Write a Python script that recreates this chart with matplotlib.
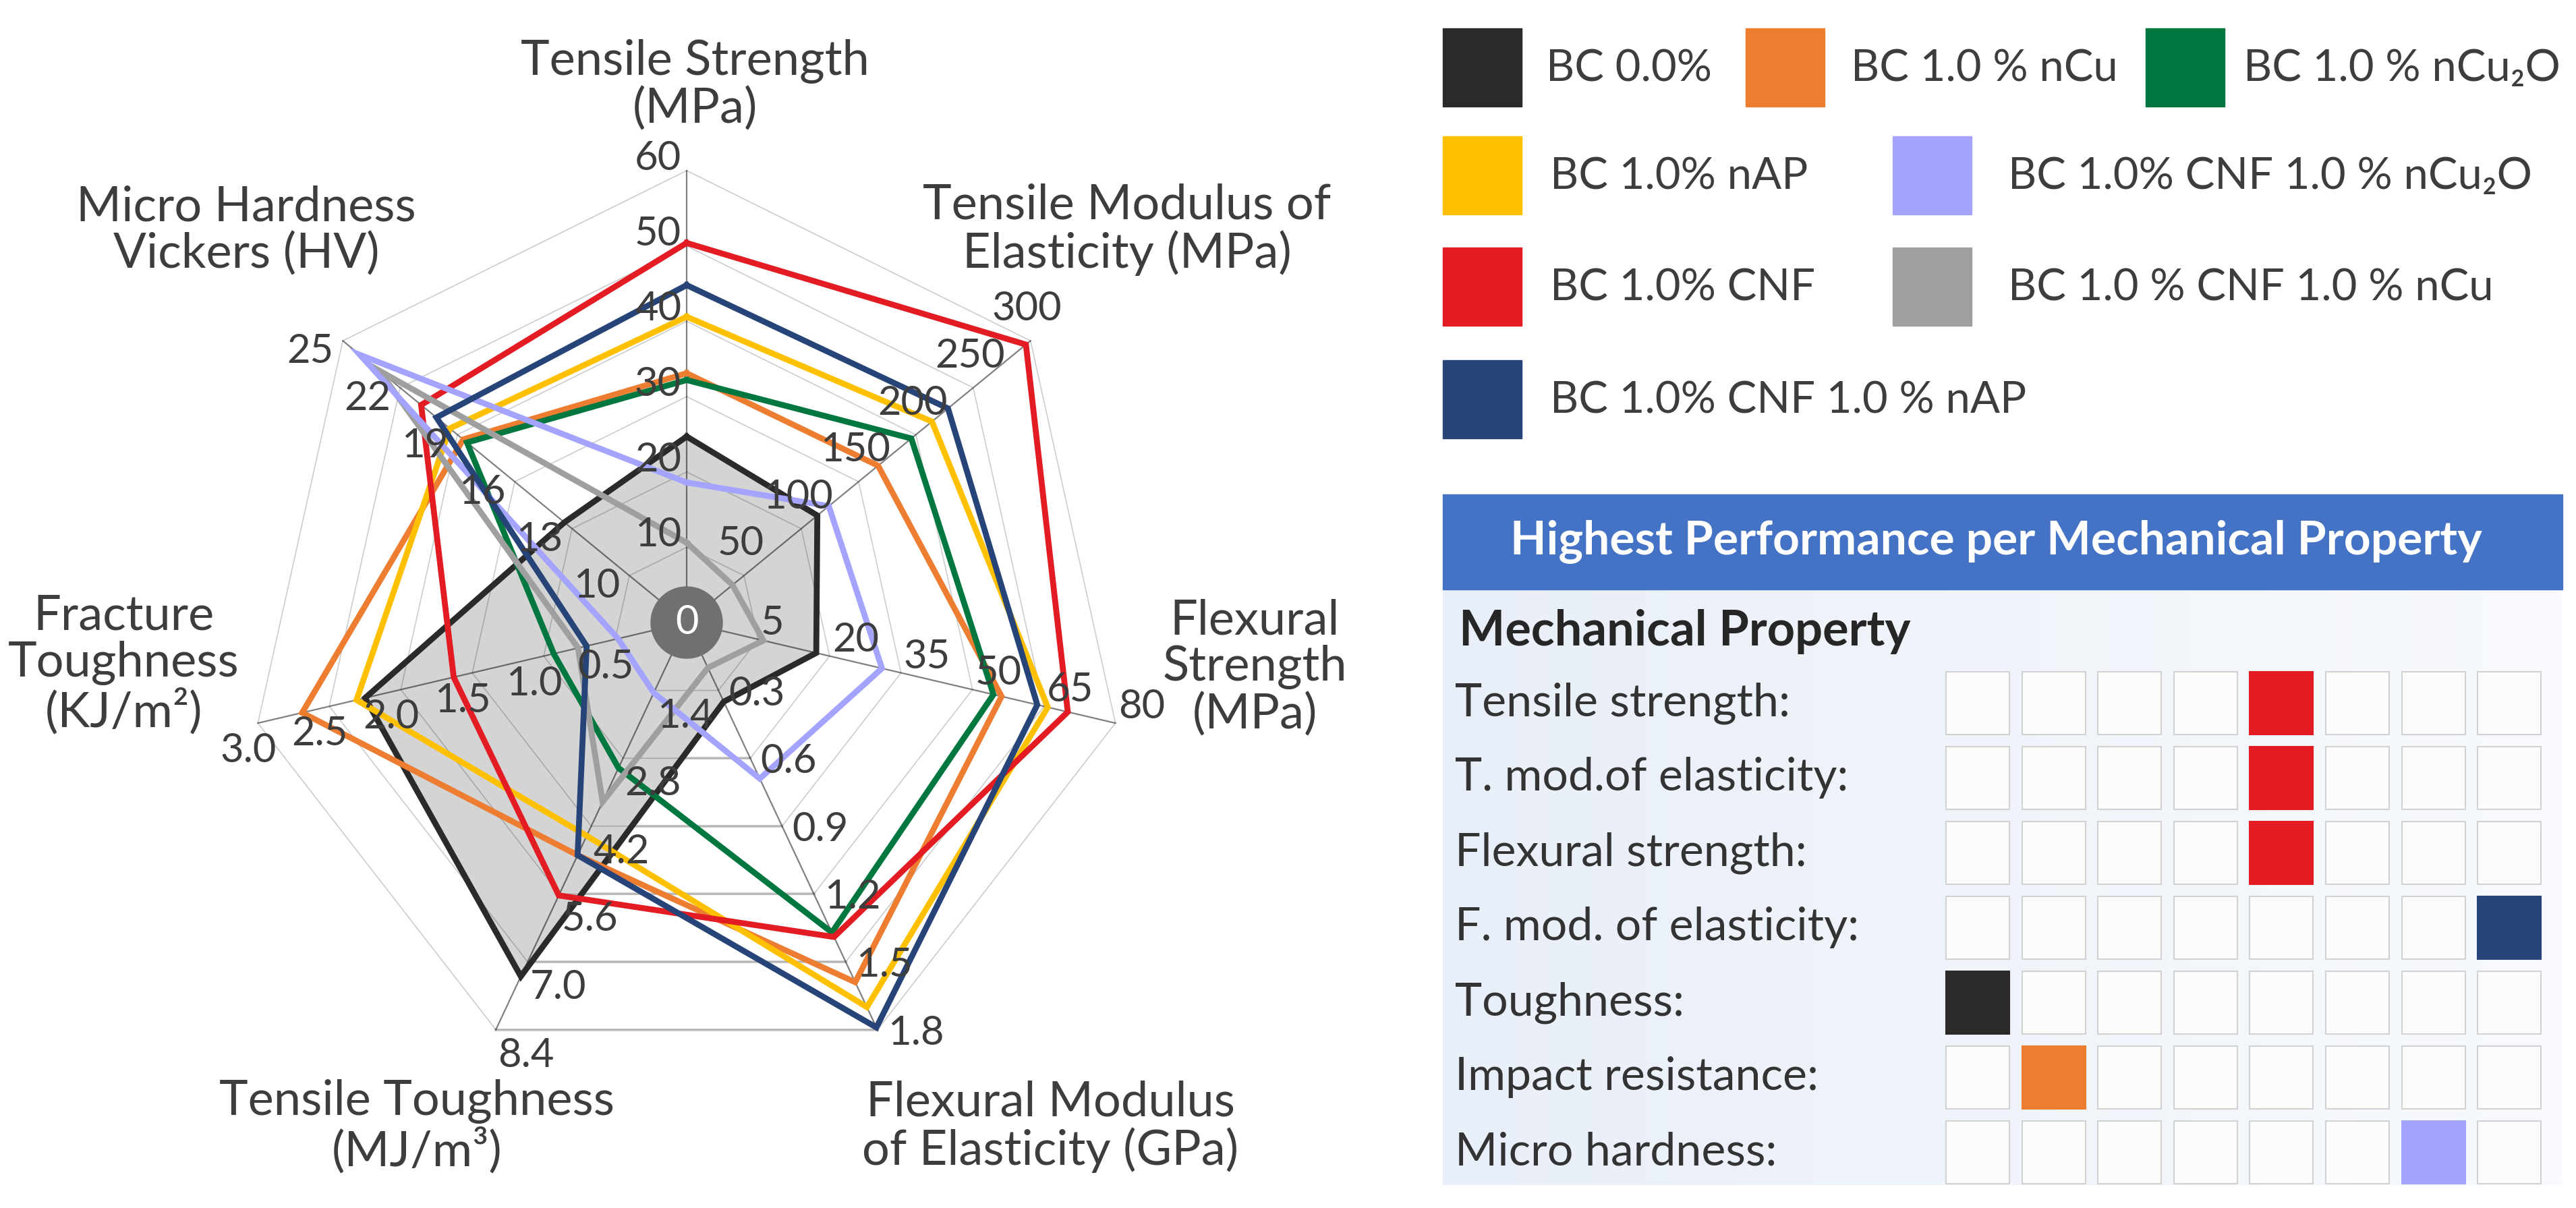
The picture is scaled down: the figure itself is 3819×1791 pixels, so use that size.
"""
Radar chart of mechanical properties of BC composites,
with a colour legend and a "highest performance" table on the right.
"""

import numpy as np
import matplotlib
matplotlib.use("Agg")
import matplotlib.pyplot as plt
from matplotlib.patches import Rectangle, Ellipse
from matplotlib.colors import LinearSegmentedColormap

plt.rcParams['font.family'] = ['Lato', 'DejaVu Sans']

# ---------------------------------------------------------------- data
# radar axes, clockwise from the top
axis_titles = [
    "Tensile Strength\n(MPa)",
    "Tensile Modulus of\nElasticity (MPa)",
    "Flexural\nStrength\n(MPa)",
    "Flexural Modulus\nof Elasticity (GPa)",
    "Tensile Toughness\n(MJ/m³)",
    "Fracture\nToughness\n(KJ/m²)",
    "Micro Hardness\nVickers (HV)",
]
axis_min = [0, 0, -10, 0, 0, 0, 7]          # value at the centre
axis_max = [60, 300, 80, 1.8, 8.4, 3.0, 25]  # value at the outer ring
tick_labels = [
    ["10", "20", "30", "40", "50", "60"],
    ["50", "100", "150", "200", "250", "300"],
    ["5", "20", "35", "50", "65", "80"],
    ["0.3", "0.6", "0.9", "1.2", "1.5", "1.8"],
    ["1.4", "2.8", "4.2", "5.6", "7.0", "8.4"],
    ["0.5", "1.0", "1.5", "2.0", "2.5", "3.0"],
    ["10", "13", "16", "19", "22", "25"],
]

# values per sample: TS, TM, FS, FM, TT, FT, MH
bc_0 = [24.7, 114, 17.2, 0.35, 7.3, 2.25, 13.4]
bc_ncu = [33.1, 167, 56.1, 1.59, 4.8, 2.69, 18.7]
bc_ncu2o = [32.2, 196, 54.4, 1.37, 3.0, 0.93, 18.5]
bc_nap = [40.6, 214, 65.8, 1.70, 4.4, 2.31, 19.4]
bc_cnf = [50.4, 296, 70.0, 1.39, 5.63, 1.63, 20.9]
bc_cnf_ncu = [10.6, 40, 6.1, 0.20, 3.7, 0.76, 23.1]
bc_cnf_ncu2o = [18.6, 124, 31.0, 0.69, 1.45, 0.48, 24.1]
bc_cnf_nap = [44.8, 228, 63.6, 1.79, 4.8, 0.70, 20.1]

names = ["BC 0.0%", "BC 1.0 % nCu", "BC 1.0 % nCu₂O", "BC 1.0% nAP",
         "BC 1.0% CNF", "BC 1.0 % CNF 1.0 % nCu",
         "BC 1.0% CNF 1.0 % nCu₂O", "BC 1.0% CNF 1.0 % nAP"]
values = [bc_0, bc_ncu, bc_ncu2o, bc_nap, bc_cnf, bc_cnf_ncu,
          bc_cnf_ncu2o, bc_cnf_nap]
colors = ["#2b2a29", "#ed7d31", "#00773f", "#ffc000",
          "#e31b23", "#9f9f9f", "#a4a4ff", "#264478"]

# legend order (rows of the legend block)
legend_order = ["BC 0.0%", "BC 1.0 % nCu", "BC 1.0 % nCu₂O",
                "BC 1.0% nAP", "BC 1.0% CNF 1.0 % nCu₂O",
                "BC 1.0% CNF", "BC 1.0 % CNF 1.0 % nCu",
                "BC 1.0% CNF 1.0 % nAP"]

# table rows: label and radar axis used to find the best sample
table_rows = ["Tensile strength:", "T. mod.of elasticity:",
              "Flexural strength:", "F. mod. of elasticity:",
              "Toughness:", "Impact resistance:", "Micro hardness:"]
table_axis = [0, 1, 2, 3, 4, 5, 6]

# ---------------------------------------------------------------- figure
W, H = 3819, 1791
DPI = 100
fig = plt.figure(figsize=(W / DPI, H / DPI), dpi=DPI, facecolor='white')

TEXT = '#3d3d3d'


def fx(x, y):
    """pixel position (top-left origin) -> figure fraction"""
    return x / W, 1 - y / H


# full-figure panel in pixel units for legend and table
panel = fig.add_axes([0, 0, 1, 1], zorder=0)
panel.axis('off')

# radar axes, unit radius = outer ring
cx, cy = 1018, 923
rx, ry = 652, 670
k = 1.45
ax = fig.add_axes([(cx - k * rx) / W, (H - cy - k * ry) / H,
                   2 * k * rx / W, 2 * k * ry / H], zorder=1)
ax.set_xlim(-k, k)
ax.set_ylim(-k, k)
ax.axis('off')
ax.patch.set_alpha(0)

n_axes = len(axis_titles)
theta = np.deg2rad(90 - 360 / n_axes * np.arange(n_axes))
n_rings = 6

# grid rings and spokes
for j in range(1, n_rings + 1):
    r = j / n_rings
    xs = np.append(r * np.cos(theta), r * np.cos(theta[0]))
    ys = np.append(r * np.sin(theta), r * np.sin(theta[0]))
    ax.plot(xs, ys, color='black', alpha=0.2, lw=1.2, zorder=2)
    # bottom edge is rendered heavier in the source
    ax.plot([r * np.cos(theta[3]), r * np.cos(theta[4])],
            [r * np.sin(theta[3]), r * np.sin(theta[4])],
            color='#d4d4d4', lw=3.2, zorder=1.5)
for t in theta:
    ax.plot([0, np.cos(t)], [0, np.sin(t)], color='black', alpha=0.5,
            lw=1.6, zorder=2)

# series
for name, vals, col in zip(names, values, colors):
    r = (np.array(vals) - np.array(axis_min)) / (np.array(axis_max) - np.array(axis_min))
    xs = np.append(r * np.cos(theta), r[0] * np.cos(theta[0]))
    ys = np.append(r * np.sin(theta), r[0] * np.sin(theta[0]))
    if name == "BC 0.0%":
        ax.fill(xs, ys, color='#d4d4d4', zorder=1)
    ax.plot(xs, ys, color=col, lw=6.3, zorder=3, solid_joinstyle='miter')

# tick labels along each spoke (offsets in pixels)
tick_place = [
    ((-8, 18), 'right'),
    ((-5, 47), 'center'),
    ((4, 24), 'left'),
    ((15, -5), 'left'),
    ((3, -38), 'left'),
    ((-14, -41), 'center'),
    ((-14, -16), 'right'),
]
for t, labels, (off, ha) in zip(theta, tick_labels, tick_place):
    for j, lab in enumerate(labels):
        r = (j + 1) / n_rings
        ax.annotate(lab, xy=(r * np.cos(t), r * np.sin(t)), xytext=off,
                    textcoords='offset pixels', ha=ha, va='center',
                    fontsize=43, color=TEXT, zorder=4)

# centre badge
ax.add_patch(Ellipse((0, 0), 2 * 53 / rx, 2 * 53 / ry, color='#707070', zorder=5))
ax.text(0, 0, "0", color='white', fontsize=43, ha='center', va='center', zorder=6)

# axis titles
title_pos = [(1030, 126), (1671, 340), (1860, 990), (1557, 1670),
             (618, 1670), (183, 985), (365, 342)]
for txt, (x, y) in zip(axis_titles, title_pos):
    fig.text(*fx(x, y), txt, ha='center', va='center', fontsize=52,
             color=TEXT, linespacing=1.08, multialignment='center')

# ---------------------------------------------------------------- legend
legend_patch = [(2139, 100), (2588, 100), (3181, 100),
                (2139, 260), (2806, 260),
                (2139, 425), (2806, 425),
                (2139, 592)]
legend_text_x = [2292, 2744, 3326, 2298, 2977, 2298, 2977, 2298]
for name, (px, py), tx in zip(legend_order, legend_patch, legend_text_x):
    col = colors[names.index(name)]
    panel.add_patch(Rectangle((px, py - 58), 117, 116, color=col))
    panel.text(tx, py + 2, name, ha='left', va='center', fontsize=47, color=TEXT)

# ---------------------------------------------------------------- table
tx0, tx1 = 2139, 3799
head_top, head_bot, body_bot = 733, 874, 1757
panel.add_patch(Rectangle((tx0, head_top), tx1 - tx0, head_bot - head_top,
                          color='#4472c4', zorder=1))
panel.text((tx0 + tx1) / 2 - 10, (head_top + head_bot) / 2, "Highest Performance per Mechanical Property",
           ha='center', va='center', fontsize=50, fontweight='bold', color='white', zorder=3)

grad = np.linspace(0, 1, 256).reshape(1, -1)
cmap = LinearSegmentedColormap.from_list('bg', ['#e9eff8', '#f8fafd'])
panel.imshow(grad, extent=(tx0, tx1, body_bot, head_bot), aspect='auto',
             cmap=cmap, zorder=0.5)

panel.text(2163, 937, "Mechanical Property", ha='left', va='center',
           fontsize=52, fontweight='bold', color='#262626', zorder=3)

col_left0, col_pitch, cell_w = 2885, 112.6, 94
row_top0, row_pitch, cell_h = 996, 111, 93
table_cols = names  # column order of the grid
for i, (lab, ai) in enumerate(zip(table_rows, table_axis)):
    y0 = row_top0 + i * row_pitch
    panel.text(2157, y0 + cell_h / 2, lab, ha='left', va='center',
               fontsize=49, color='#333333', zorder=3)
    best = int(np.argmax([v[ai] for v in values]))
    for c in range(len(table_cols)):
        x0 = col_left0 + c * col_pitch
        if c == best:
            face, edge = colors[c], colors[c]
        else:
            face, edge = '#fcfcfc', '#d2d2d2'
        panel.add_patch(Rectangle((x0, y0), cell_w, cell_h, facecolor=face,
                                  edgecolor=edge, lw=1.5, zorder=2))

panel.set_xlim(0, W)
panel.set_ylim(H, 0)

fig.savefig("out.png", dpi=DPI, facecolor='white')
plt.close(fig)
